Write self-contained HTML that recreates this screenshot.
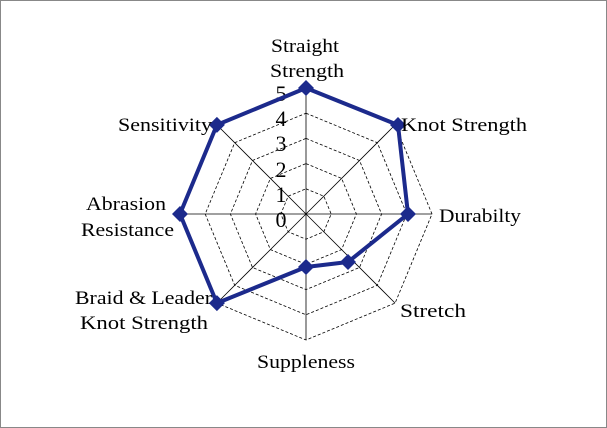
<!DOCTYPE html>
<html><head><style>body{margin:0;background:#fff}svg{display:block}</style></head><body>
<svg width="607" height="428" viewBox="0 0 607 428" xmlns="http://www.w3.org/2000/svg" font-family="Liberation Serif, serif">
<rect x="0.5" y="0.5" width="606" height="427" fill="#fff" stroke="#888"/>
<g fill="none" stroke="#000" stroke-width="0.8" stroke-dasharray="3,2">
<polygon points="306,188.8 323.8,196.2 331.2,214 323.8,231.8 306,239.2 288.2,231.8 280.8,214 288.2,196.2"/>
<polygon points="306,163.6 341.6,178.4 356.4,214 341.6,249.6 306,264.4 270.4,249.6 255.6,214 270.4,178.4"/>
<polygon points="306,138.4 359.5,160.5 381.6,214 359.5,267.5 306,289.6 252.5,267.5 230.4,214 252.5,160.5"/>
<polygon points="306,113.2 377.3,142.7 406.8,214 377.3,285.3 306,314.8 234.7,285.3 205.2,214 234.7,142.7"/>
<polygon points="306,88 395.1,124.9 432,214 395.1,303.1 306,340 216.9,303.1 180,214 216.9,124.9"/>
</g>
<g stroke="#000" stroke-width="0.8">
<line x1="306" y1="214" x2="306" y2="88"/><line x1="306" y1="214" x2="395.1" y2="124.9"/>
<line x1="306" y1="214" x2="432" y2="214"/><line x1="306" y1="214" x2="395.1" y2="303.1"/>
<line x1="306" y1="214" x2="306" y2="340"/><line x1="306" y1="214" x2="216.9" y2="303.1"/>
<line x1="306" y1="214" x2="180" y2="214"/><line x1="306" y1="214" x2="216.9" y2="124.9"/>
</g>
<g font-size="22" text-anchor="middle" fill="#000">
<text x="281" y="227">0</text><text x="281" y="202">1</text><text x="281" y="177">2</text><text x="281" y="151">3</text><text x="281" y="126">4</text><text x="281" y="101">5</text>
</g>
<polygon points="306,88 398,125 408,214 348,262 306,267 216.9,303.1 180,214 216.9,124.9" fill="none" stroke="#1c2a8c" stroke-width="4" stroke-linejoin="round"/>
<g fill="#1c2a8c">
<path d="M306,80 l8,8 -8,8 -8,-8z"/><path d="M398,117 l8,8 -8,8 -8,-8z"/><path d="M408,206 l8,8 -8,8 -8,-8z"/><path d="M348,254 l8,8 -8,8 -8,-8z"/><path d="M306,259 l8,8 -8,8 -8,-8z"/><path d="M216.9,295.1 l8,8 -8,8 -8,-8z"/><path d="M180,206 l8,8 -8,8 -8,-8z"/><path d="M216.9,116.9 l8,8 -8,8 -8,-8z"/>
</g>
<g font-size="19" fill="#000" lengthAdjust="spacingAndGlyphs">
<text x="271" y="52" textLength="68" lengthAdjust="spacingAndGlyphs">Straight</text>
<text x="270" y="77" textLength="74" lengthAdjust="spacingAndGlyphs">Strength</text>
<text x="401" y="131" textLength="126" lengthAdjust="spacingAndGlyphs">Knot Strength</text>
<text x="439" y="222" textLength="82" lengthAdjust="spacingAndGlyphs">Durabilty</text>
<text x="400" y="317" textLength="66" lengthAdjust="spacingAndGlyphs">Stretch</text>
<text x="257" y="368" textLength="98" lengthAdjust="spacingAndGlyphs">Suppleness</text>
<text x="75" y="304" textLength="137" lengthAdjust="spacingAndGlyphs">Braid &amp; Leader</text>
<text x="80" y="329" textLength="128" lengthAdjust="spacingAndGlyphs">Knot Strength</text>
<text x="86" y="210" textLength="80" lengthAdjust="spacingAndGlyphs">Abrasion</text>
<text x="81" y="236" textLength="93" lengthAdjust="spacingAndGlyphs">Resistance</text>
<text x="118" y="131" textLength="94" lengthAdjust="spacingAndGlyphs">Sensitivity</text>
</g>
</svg>
</body></html>
